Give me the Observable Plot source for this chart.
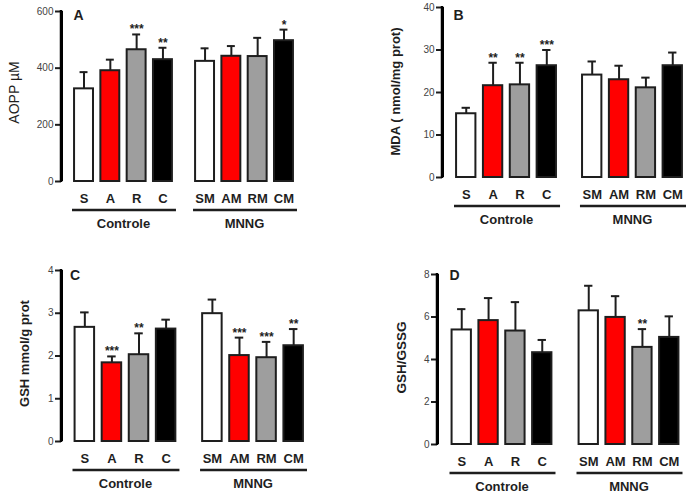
<!DOCTYPE html>
<html>
<head>
<meta charset="utf-8">
<script src="https://cdn.jsdelivr.net/npm/d3@7"></script>
<script src="https://cdn.jsdelivr.net/npm/@observablehq/plot@0.6"></script>
<style>
  html, body { margin: 0; padding: 0; background: #fff; }
  #fig { position: relative; width: 698px; height: 496px; background: #fff; overflow: hidden; }
  .panel { position: absolute; }
</style>
</head>
<body>
<div id="fig"></div>
<script>
// ---------- data ----------
const groups = ["Controle", "MNNG"];
const categories = ["S", "A", "R", "C", "SM", "AM", "RM", "CM"];
const groupOf = ["Controle", "Controle", "Controle", "Controle", "MNNG", "MNNG", "MNNG", "MNNG"];
const treatments = ["S", "A", "R", "C"];

// Panel A: AOPP (µM)
const aoppMean = [327, 391, 465, 430, 424, 442, 441, 497];
const aoppSD   = [59, 39, 54, 42, 46, 36, 66, 39];
const aoppSig  = ["", "", "***", "**", "", "", "", "*"];
const aoppTicks = [0, 200, 400, 600];

// Panel B: MDA (nmol/mg prot)
const mdaMean = [15.0, 21.6, 21.8, 26.3, 24.1, 23.0, 21.1, 26.3];
const mdaSD   = [1.4, 5.4, 5.2, 3.7, 3.2, 3.3, 2.4, 3.1];
const mdaSig  = ["", "**", "**", "***", "", "", "", ""];
const mdaTicks = [0, 10, 20, 30, 40];

// Panel C: GSH (mmol/g prot)
const gshMean = [2.67, 1.84, 2.03, 2.63, 2.99, 2.01, 1.96, 2.24];
const gshSD   = [0.35, 0.15, 0.50, 0.22, 0.33, 0.42, 0.37, 0.39];
const gshSig  = ["", "***", "**", "", "", "***", "***", "**"];
const gshTicks = [0, 1, 2, 3, 4];

// Panel D: GSH/GSSG
const ratioMean = [5.39, 5.83, 5.34, 4.32, 6.29, 5.98, 4.57, 5.04];
const ratioSD   = [0.98, 1.06, 1.36, 0.60, 1.18, 1.00, 0.86, 0.99];
const ratioSig  = ["", "", "", "", "", "", "**", ""];
const ratioTicks = [0, 2, 4, 6, 8];

const panelLetters = ["A", "B", "C", "D"];
const yLabels = ["AOPP \u00b5M", "MDA ( nmol/mg prot)", "GSH mmol/g prot", "GSH/GSSG"];

// ---------- styles / layout ----------
const fillColors = ["#ffffff", "#ff0000", "#9e9e9e", "#000000"];
const ink = "#1e1e1e";
const font = "'Liberation Sans', Arial, Helvetica, sans-serif";
const xPadInner = 0.28, xPadOuter = 0.04;

const panels = [
  {mean: aoppMean, sd: aoppSD, sig: aoppSig, ticks: aoppTicks,
   left: 0, top: 0, h: 240, ml: 73, mr: 55, mt: 11, mb: 59, fxPad: 0.174, axisDx: -12,
   labelX: 14, labelDy: -4, labelWeight: "normal", labelSize: 14, letterDx: 0, letterDy: -1},
  {mean: mdaMean, sd: mdaSD, sig: mdaSig, ticks: mdaTicks,
   left: 349, top: 0, h: 240, ml: 106, mr: 15, mt: 7, mb: 63, fxPad: 0.19, axisDx: -13,
   labelX: 46, labelDy: -1, labelWeight: "bold", labelSize: 13, letterDx: -2, letterDy: 3},
  {mean: gshMean, sd: gshSD, sig: gshSig, ticks: gshTicks,
   left: 0, top: 240, h: 256, ml: 73.5, mr: 45, mt: 30, mb: 55, fxPad: 0.193, axisDx: -12.5,
   labelX: 24, labelDy: -2.5, labelWeight: "bold", labelSize: 13, letterDx: -4, letterDy: 0},
  {mean: ratioMean, sd: ratioSD, sig: ratioSig, ticks: ratioTicks,
   left: 349, top: 240, h: 256, ml: 101.5, mr: 18.5, mt: 34, mb: 52, fxPad: 0.197, axisDx: -13.5,
   labelX: 52, labelDy: -2, labelWeight: "bold", labelSize: 13.5, letterDx: -1.5, letterDy: -4.5}
];

const fig = document.getElementById("fig");

panels.forEach((p, k) => {
  const rows = categories.map((cat, i) => ({
    cat, group: groupOf[i], treat: treatments[i % 4],
    mean: p.mean[i], top: p.mean[i] + p.sd[i], sig: p.sig[i]
  }));
  const first = groups[0];
  const yDomain = [p.ticks[0], p.ticks[p.ticks.length - 1]];
  const fxStep = (349 - p.ml - p.mr) / (groups.length - p.fxPad);
  const fxBw = fxStep * (1 - p.fxPad);
  const xStep = fxBw / (treatments.length - xPadInner + 2 * xPadOuter);
  const firstCentre = xPadOuter * xStep + (1 - xPadInner) * xStep / 2;
  const axisRow = [{g: first, t: treatments[0]}];
  const chart = Plot.plot({
    width: 349,
    height: p.h,
    marginLeft: p.ml, marginRight: p.mr, marginTop: p.mt, marginBottom: p.mb,
    style: {fontFamily: font, background: "transparent", overflow: "visible", color: ink},
    fx: {domain: groups, paddingInner: p.fxPad, paddingOuter: 0, round: false, axis: null, label: null},
    x: {domain: treatments, paddingInner: xPadInner, paddingOuter: xPadOuter, round: false, axis: null},
    y: {domain: yDomain, axis: null},
    color: {domain: treatments, range: fillColors},
    marks: [
      // y axis line (first facet only), full y range — drawn first, underneath everything
      Plot.tickX(axisRow, {fx: "g", x: "t", dx: p.axisDx - firstCentre, stroke: "#000000", strokeWidth: 3}),
      // error bars (upper whisker + cap)
      Plot.ruleX(rows, {fx: "group", x: "treat", y1: "mean", y2: "top", stroke: ink, strokeWidth: 2}),
      Plot.tickY(rows, {fx: "group", x: "treat", y: "top", stroke: ink, strokeWidth: 2, insetLeft: 5.5, insetRight: 5.5}),
      // bars
      Plot.barY(rows, {fx: "group", x: "treat", y: "mean", fill: "treat", stroke: ink, strokeWidth: 2}),
      // significance stars
      Plot.text(rows, {fx: "group", x: "treat", y: "top", text: "sig", lineAnchor: "bottom", dy: -1,
        fontSize: 12, fontWeight: "bold", fill: ink}),
      // category labels
      Plot.text(rows, {fx: "group", x: "treat", text: "cat", frameAnchor: "bottom", lineAnchor: "middle", dy: 17,
        fontSize: 13, fontWeight: "bold", fill: ink}),
      // group underline
      Plot.ruleY([p.ticks[0]], {dy: 28.5, stroke: ink, strokeWidth: 2.5, insetLeft: -1, insetRight: -3}),
      // group labels
      Plot.text(groups, {fx: (d) => d, text: (d) => d, frameAnchor: "bottom", lineAnchor: "middle", dy: 42,
        fontSize: 13, fontWeight: "bold", fill: ink}),
      // y axis ticks and tick labels
      Plot.axisY({ticks: p.ticks, tickFormat: d3.format("d"), tickSize: 6, tickPadding: 2, fontSize: 10, dx: p.axisDx,
        stroke: ink, strokeWidth: 2, fill: "#444", label: null}),
      // y label
      Plot.text([yLabels[k]], {fx: () => first, frameAnchor: "left", textAnchor: "middle", lineAnchor: "middle", rotate: -90,
        dx: p.labelX - p.ml, dy: p.labelDy, fontSize: p.labelSize, fontWeight: p.labelWeight, fill: ink}),
      // panel letter
      Plot.text([panelLetters[k]], {fx: () => first, frameAnchor: "top-left", textAnchor: "start", lineAnchor: "top",
        dx: p.letterDx, dy: p.letterDy, fontSize: 14, fontWeight: "bold", fill: ink})
    ]
  });
  // the same axis line again as a filled strip, using the y scale's range
  const yr = chart.scale("y").range;
  const axisX = p.ml + p.axisDx;
  const svg = chart.tagName.toLowerCase() === "svg" ? chart : chart.querySelector("svg");
  d3.select(svg).append("rect")
    .attr("x", axisX - 1.25).attr("width", 2.5)
    .attr("y", Math.min(yr[0], yr[1]) - 1).attr("height", Math.abs(yr[0] - yr[1]) + 2)
    .attr("fill", "#000000");
  const wrap = document.createElement("div");
  wrap.className = "panel";
  wrap.style.left = p.left + "px";
  wrap.style.top = p.top + "px";
  wrap.appendChild(chart);
  fig.appendChild(wrap);
});
</script>
</body>
</html>
